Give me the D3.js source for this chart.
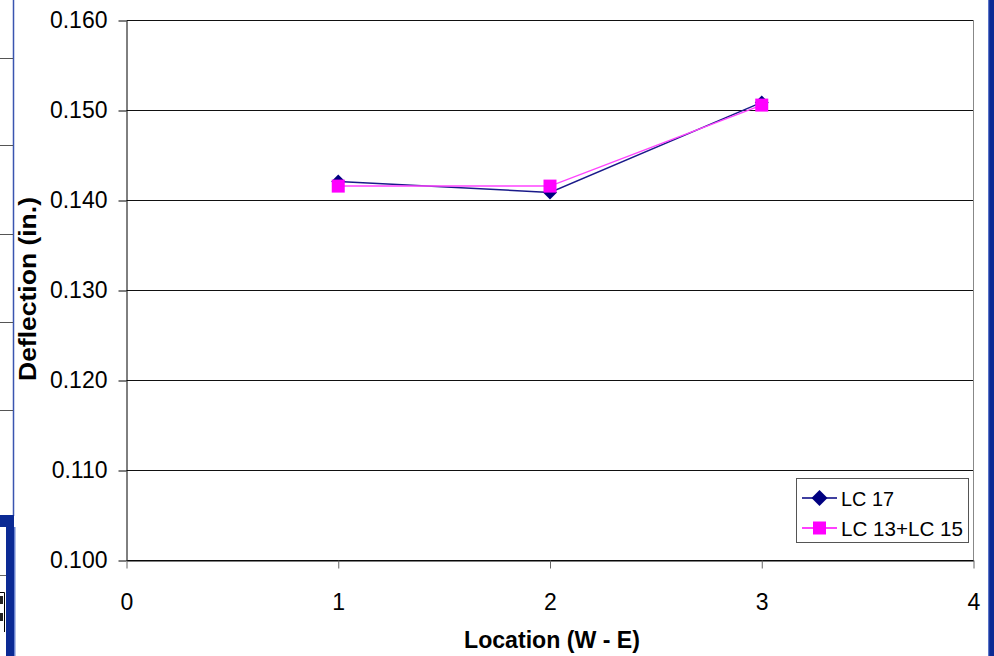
<!DOCTYPE html>
<html>
<head>
<meta charset="utf-8">
<script src="https://cdn.jsdelivr.net/npm/d3@7"></script>
<style>
  html, body { margin: 0; padding: 0; background: #ffffff; }
  svg { display: block; }
  text { font-family: "Liberation Sans", Arial, sans-serif; fill: #000; }
</style>
</head>
<body>
<svg id="chart" width="994" height="656"></svg>
<script>
// Deflection at each location, west to east
const locations = [1, 2, 3];
const lc17 = [0.1421, 0.1409, 0.1509];
const lc13lc15 = [0.1416, 0.1416, 0.1506];
const seriesNames = ["LC 17", "LC 13+LC 15"];
const yTicks = [0.100, 0.110, 0.120, 0.130, 0.140, 0.150, 0.160];
const xTicks = [0, 1, 2, 3, 4];

const svg = d3.select("#chart");

// Slide frame pieces around the chart
const frame = svg.append("g");
frame.append("line").attr("x1", 13.5).attr("x2", 13.5).attr("y1", 0).attr("y2", 516)
  .attr("stroke", "#3a55b0").attr("stroke-width", 1.5);
[58, 145, 234, 322, 410].forEach(yy => {
  frame.append("line").attr("x1", 0).attr("x2", 13).attr("y1", yy + 0.5).attr("y2", yy + 0.5)
    .attr("stroke", "#555").attr("stroke-width", 1);
});
frame.append("rect").attr("x", 0).attr("y", 515).attr("width", 14).attr("height", 12).attr("fill", "#0b2a94");
frame.append("rect").attr("x", 6).attr("y", 515).attr("width", 8).attr("height", 141).attr("fill", "#0b2a94");
frame.append("rect").attr("x", 14).attr("y", 527).attr("width", 1.5).attr("height", 129).attr("fill", "#6a84d0");
frame.append("line").attr("x1", 0).attr("x2", 6).attr("y1", 575.5).attr("y2", 575.5).attr("stroke", "#666");
frame.append("path").attr("d", "M0,592.5H4.5V632").attr("fill", "none").attr("stroke", "#000");
frame.append("rect").attr("x", 0).attr("y", 596).attr("width", 3).attr("height", 8).attr("fill", "#222");
frame.append("rect").attr("x", 0).attr("y", 613).attr("width", 3).attr("height", 8).attr("fill", "#222");
frame.append("rect").attr("x", 989).attr("y", 0).attr("width", 5).attr("height", 656).attr("fill", "#0b2a94");
frame.append("rect").attr("x", 988).attr("y", 0).attr("width", 1.2).attr("height", 656).attr("fill", "#5a74c8");

// Scales
const x = d3.scaleLinear().domain([0, 4]).range([126.5, 973.5]);
const y = d3.scaleLinear().domain([0.100, 0.160]).range([560.5, 20.5]);

// Plot area
svg.append("rect")
  .attr("x", x(0)).attr("y", y(0.160))
  .attr("width", x(4) - x(0)).attr("height", y(0.100) - y(0.160))
  .attr("fill", "#ffffff").attr("stroke", "none");

// Horizontal gridlines
svg.append("g").selectAll("line").data(yTicks).join("line")
  .attr("x1", x(0)).attr("x2", x(4))
  .attr("y1", d => y(d)).attr("y2", d => y(d))
  .attr("stroke", "#111").attr("stroke-width", 1);

// Right border of the plot area
svg.append("line").attr("x1", x(4)).attr("x2", x(4))
  .attr("y1", y(0.160)).attr("y2", y(0.100))
  .attr("stroke", "#888").attr("stroke-width", 1);

// Axes
const yAxis = svg.append("g").attr("transform", `translate(${x(0)},0)`)
  .call(d3.axisLeft(y).tickValues(yTicks).tickFormat(d3.format(".3f"))
    .tickSize(8).tickSizeOuter(0).tickPadding(11));
const xAxis = svg.append("g").attr("transform", `translate(0,${y(0.100)})`)
  .call(d3.axisBottom(x).tickValues(xTicks).tickFormat(d3.format("d"))
    .tickSize(8).tickSizeOuter(0).tickPadding(25));
[yAxis, xAxis].forEach(g => {
  g.selectAll("text").style("font-size", "23px").attr("fill", "#000");
  g.selectAll("line").attr("stroke", "#000");
  g.select(".domain").attr("stroke", "#000");
});
xAxis.selectAll(".tick line").attr("stroke", "#666");

// Axis titles
svg.append("text")
  .attr("transform", `translate(36,289) rotate(-90)`)
  .attr("text-anchor", "middle")
  .attr("textLength", 184).attr("lengthAdjust", "spacingAndGlyphs")
  .style("font-size", "23px").style("font-weight", "bold")
  .text("Deflection (in.)");
svg.append("text")
  .attr("x", 552).attr("y", 648)
  .attr("text-anchor", "middle")
  .attr("textLength", 176).attr("lengthAdjust", "spacingAndGlyphs")
  .style("font-size", "23px").style("font-weight", "bold")
  .text("Location (W - E)");

// Marker shapes
const diamondPath = (cx, cy, r) => `M${cx},${cy - r}L${cx + r},${cy}L${cx},${cy + r}L${cx - r},${cy}Z`;
const squarePath = (cx, cy, s) => `M${cx - s / 2},${cy - s / 2}h${s}v${s}h${-s}Z`;

const series = [
  { name: seriesNames[0], values: lc17, color: "#000080", lineColor: "#1a1a8a", marker: "diamond" },
  { name: seriesNames[1], values: lc13lc15, color: "#ff00ff", lineColor: "#ff44ff", marker: "square" }
];

const line = d3.line().x(d => x(d[0])).y(d => y(d[1]));

series.forEach(s => {
  const pts = locations.map((loc, i) => [loc, s.values[i]]);
  svg.append("path").datum(pts)
    .attr("d", line)
    .attr("fill", "none").attr("stroke", s.lineColor).attr("stroke-width", 1.5);
  svg.append("g").selectAll("path").data(pts).join("path")
    .attr("d", d => s.marker === "diamond" ? diamondPath(x(d[0]), y(d[1]), 7) : squarePath(x(d[0]), y(d[1]), 13))
    .attr("fill", s.color);
});

// Legend
const legend = svg.append("g");
legend.append("rect")
  .attr("x", 796.5).attr("y", 478.5).attr("width", 172).attr("height", 64)
  .attr("fill", "#fff").attr("stroke", "#555").attr("stroke-width", 1);
series.forEach((s, i) => {
  const cy = 498 + i * 30;
  legend.append("line").attr("x1", 802).attr("x2", 837).attr("y1", cy).attr("y2", cy)
    .attr("stroke", s.color).attr("stroke-width", 1.5);
  legend.append("path")
    .attr("d", s.marker === "diamond" ? diamondPath(819.5, cy, 8) : squarePath(819.5, cy, 13))
    .attr("fill", s.color);
  legend.append("text")
    .attr("x", 841).attr("y", cy + 7.5)
    .attr("textLength", s.name.length > 6 ? 122 : 53).attr("lengthAdjust", "spacingAndGlyphs")
    .style("font-size", "21px")
    .text(s.name);
});
</script>
</body>
</html>
